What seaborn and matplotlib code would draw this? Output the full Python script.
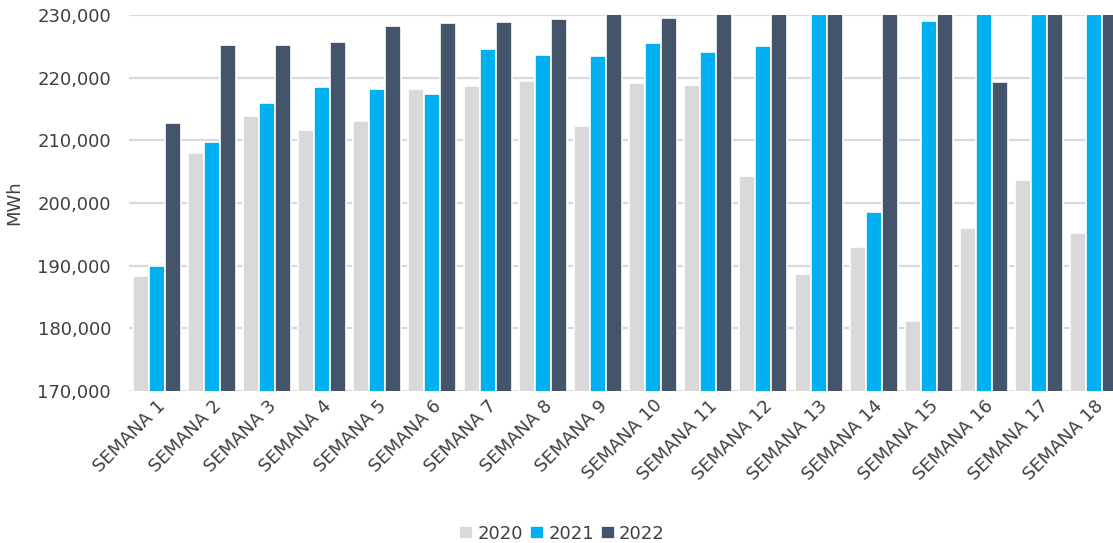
import pandas as pd
import numpy as np
import matplotlib
matplotlib.use('Agg')
import matplotlib.pyplot as plt
import seaborn as sns

# Weekly energy (MWh) per year
weeks = ['SEMANA ' + str(i) for i in range(1, 19)]
years = ['2020', '2021', '2022']
v2020 = [188350, 207930, 213880, 211700, 213090, 218190, 218670, 219470, 212290,
         219150, 218780, 204310, 188720, 192930, 181170, 196070, 203670, 195270]
v2021 = [189900, 209780, 215960, 218460, 218140, 217450, 224570, 223560, 223510,
         225480, 224040, 225110, 231500, 198620, 228990, 231200, 232400, 232800]
v2022 = [212815, 225210, 225210, 225690, 228300, 228670, 228880, 229310, 230600,
         229470, 231000, 231800, 232500, 231400, 232100, 219260, 233000, 233600]
colors = ['#D9D9D9', '#00B0F0', '#44546A']

df = pd.DataFrame({
    'week': weeks * 3,
    'year': [y for y in years for _ in weeks],
    'MWh': v2020 + v2021 + v2022,
})

sns.set_style('white')
plt.rcParams['font.family'] = ['DejaVu Sans']
text_col = '#404040'
fs = 13

fig = plt.figure(figsize=(11.13, 5.43), dpi=100)
ax = fig.add_axes([0.116, 0.28, 0.892, 0.6924])

sns.barplot(data=df, x='week', y='MWh', hue='year', palette=colors, width=0.87,
            saturation=1, edgecolor='white', linewidth=1.2, ax=ax, legend=True)

ax.set_ylim(170000, 230000)
ax.set_xlim(-0.5, 17.5)
ax.set_yticks(np.arange(170000, 230001, 10000))
ax.yaxis.set_major_formatter(matplotlib.ticker.FuncFormatter(lambda v, p: f'{int(v):,}'))
ax.grid(axis='y', color='#D9D9D9', linewidth=1.6)
ax.set_axisbelow(True)
for s in ax.spines.values():
    s.set_visible(False)
ax.tick_params(axis='both', length=0, labelsize=fs, colors=text_col)
ax.tick_params(axis='y', pad=13)
ax.tick_params(axis='x', pad=4)
plt.setp(ax.get_xticklabels(), rotation=45, ha='right', rotation_mode='anchor')
ax.set_xlabel('')
ax.set_ylabel('MWh', fontsize=fs, color=text_col, labelpad=10)

handles, labels = ax.get_legend_handles_labels()
ax.get_legend().remove()
fig.legend(handles, labels, loc='lower center', ncol=3, frameon=False,
           bbox_to_anchor=(0.505, -0.03), fontsize=fs, handlelength=0.75,
           handleheight=0.75, handletextpad=0.25, columnspacing=0.4, labelcolor=text_col)

fig.savefig('out.png', dpi=100)
